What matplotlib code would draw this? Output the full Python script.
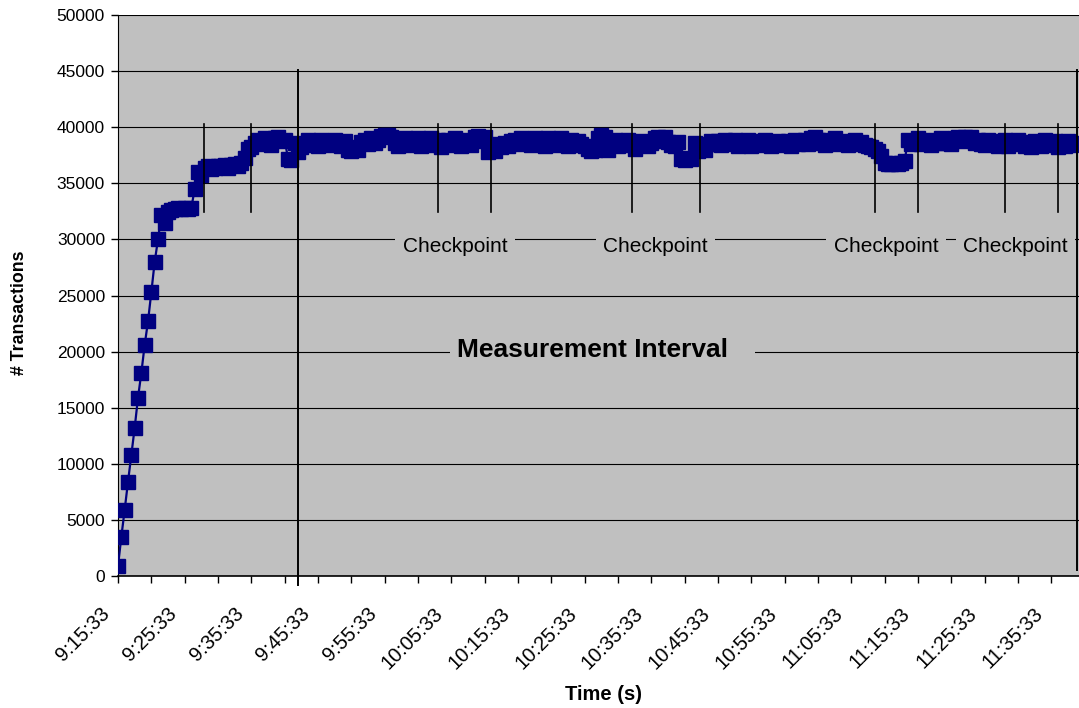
import matplotlib
matplotlib.use("Agg")
import matplotlib.pyplot as plt
from matplotlib.patches import Rectangle
from matplotlib.transforms import ScaledTranslation
import numpy as np

plt.rcParams['font.family'] = ['Liberation Sans', 'DejaVu Sans']

# Transactions per 30-second sample, starting at 9:15:33
sample_minutes = 0.5
transactions = [
    900, 3500, 5900, 8400, 10800, 13200, 15900, 18100, 20600, 22700,
    25300, 28000, 30000, 32200, 31500, 32400, 32600, 32700, 32800, 32700,
    32800, 32700, 32800, 34500, 36000, 35700, 36400, 36500, 36300, 36400,
    36500, 36500, 36600, 36400, 36600, 36700, 36500, 36800, 37300, 38100,
    38200, 38600, 38900, 38500, 39000, 38700, 38400, 39000, 39100, 38800,
    38900, 37200, 37100, 38600, 37800, 38200, 38500, 38900, 38400, 38800,
    38300, 38900, 38500, 38800, 38400, 38900, 38700, 38300, 38800, 38000,
    37900, 38200, 38000, 38700, 38900, 38500, 39000, 38600, 38900, 39200,
    39300, 39300, 39100, 38600, 38300, 38900, 39000, 38400, 38900, 38600,
    39000, 38300, 38800, 38500, 39000, 38400, 38900, 38200, 38700, 38900,
    38400, 39000, 38600, 38300, 38900, 38700, 38400, 39100, 39200, 38800,
    39100, 37800, 38200, 37900, 38500, 38200, 38600, 38300, 38800, 38900,
    38500, 39000, 38600, 38900, 38400, 39000, 38600, 38900, 38300, 39000,
    38700, 38400, 38900, 39000, 38600, 38300, 38900, 38400, 38800, 38500,
    38300, 38100, 37900, 38000, 39000, 39300, 39100, 38000, 38500, 38900,
    38300, 38800, 38500, 38900, 38400, 38100, 38600, 38800, 38400, 38300,
    38600, 39000, 39100, 38800, 39100, 38700, 38400, 38300, 38700, 37200,
    37100, 37300, 37200, 38600, 37900, 38400, 38000, 38500, 38800, 38500,
    38800, 38400, 38900, 38500, 38800, 38900, 38300, 38700, 38500, 38900,
    38300, 38800, 38400, 38600, 38900, 38700, 38300, 38600, 38800, 38400,
    38600, 38800, 38300, 38900, 38500, 38700, 38900, 38500, 39000, 39100,
    38900, 38600, 38400, 38900, 38600, 39000, 38500, 38800, 38600, 38400,
    38700, 38900, 38500, 38700, 38400, 38300, 38200, 38100, 37900, 37400,
    36800, 36700, 36700, 36800, 36700, 36800, 37000, 38900, 38500, 38700,
    39000, 38500, 38700, 38900, 38400, 38800, 38600, 39000, 38600, 38900,
    38500, 39000, 39100, 38800, 39100, 38900, 39100, 38600, 38900, 38500,
    38400, 38900, 38500, 38800, 38300, 38600, 38900, 38300, 38700, 38500,
    38900, 38700, 38300, 38600, 38200, 38800, 38500, 38300, 38900, 38700,
    38400, 38800, 38200, 38700, 38300, 38800, 38400, 38600,
]

# Axis labels every 10 minutes, ticks every 5 minutes (minutes after 9:15:33)
time_labels = ["9:15:33", "9:25:33", "9:35:33", "9:45:33", "9:55:33",
               "10:05:33", "10:15:33", "10:25:33", "10:35:33", "10:45:33",
               "10:55:33", "11:05:33", "11:15:33", "11:25:33", "11:35:33"]
label_step = 10
tick_step = 5

# Measurement interval and checkpoint windows (minutes after 9:15:33)
measurement_bounds = [26.95, 143.8]
checkpoint_starts = [12.93, 47.95, 77.1, 113.6, 133.1]
checkpoint_ends = [20.0, 55.95, 87.25, 119.95, 141.0]
checkpoint_label_x = [50.55, 80.6, 115.2, 134.6]

navy = '#000080'
panel = '#c0c0c0'

fig = plt.figure(figsize=(10.79, 7.08), dpi=100)
ax = fig.add_axes([0.1089, 0.1864, 0.8911, 0.7924])
ax.set_facecolor(panel)

x = np.arange(len(transactions)) * sample_minutes
ax.plot(x, transactions, color=navy, lw=1.6, marker='s', ms=9.5,
        mfc=navy, mec=navy, mew=1, zorder=3)

ax.set_xlim(-0.075, 144.15)
ax.set_ylim(0, 50000)

ax.set_yticks(np.arange(0, 50001, 5000))
ax.yaxis.grid(True, color='black', lw=0.8)
ax.set_axisbelow(True)

n_ticks = (len(time_labels) - 1) * label_step // tick_step + 1
ax.set_xticks(np.arange(n_ticks) * tick_step)
ax.set_xticklabels([])

# Rotated time labels, right end just left of and below each labelled tick
label_offset = ScaledTranslation(-0.11, -0.348, fig.dpi_scale_trans)
label_trans = ax.get_xaxis_transform() + label_offset
for k, txt in enumerate(time_labels):
    ax.text(k * label_step, 0, txt, transform=label_trans, rotation=45,
            ha='right', va='center', rotation_mode='anchor', fontsize=14.5,
            clip_on=False)

ax.tick_params(axis='x', direction='out', length=5, width=1, colors='black')
ax.tick_params(axis='y', direction='out', length=5, width=1, pad=4, labelsize=12.5)

for side in ['top', 'right']:
    ax.spines[side].set_visible(False)
ax.spines['left'].set_color('black')
ax.spines['bottom'].set_color('black')
ax.spines['bottom'].set_linewidth(1.2)

# Measurement interval boundaries
ax.plot([measurement_bounds[0]] * 2, [-800, 45100], color='black', lw=1.4,
        zorder=4, clip_on=False)
ax.plot([measurement_bounds[1]] * 2, [500, 45100], color='black', lw=1.4,
        zorder=4, clip_on=False)

# Checkpoint windows
for s, e in zip(checkpoint_starts, checkpoint_ends):
    for xc in (s, e):
        ax.plot([xc, xc], [32440, 40290], color='black', lw=1.2, zorder=4)

for xc in checkpoint_label_x:
    ax.text(xc, 28900, "Checkpoint", fontsize=15, ha='center', va='baseline',
            zorder=5,
            bbox=dict(boxstyle='square,pad=0.36', fc=panel, ec='none'))

ax.add_patch(Rectangle((49.8, 18800), 45.75, 2600, fc=panel, ec='none', zorder=2))
ax.text(50.85, 19550, "Measurement Interval", fontsize=19, fontweight='bold',
        ha='left', va='baseline', zorder=5)

ax.set_ylabel("# Transactions", fontsize=12.8, fontweight='bold')
ax.set_xlabel("Time (s)", fontsize=14.5, fontweight='bold')
ax.yaxis.set_label_coords(-0.093, 0.47)
ax.xaxis.set_label_coords((603 - 117.5) / 961.5, -0.195)

fig.savefig("out.png", dpi=100, facecolor='white')
